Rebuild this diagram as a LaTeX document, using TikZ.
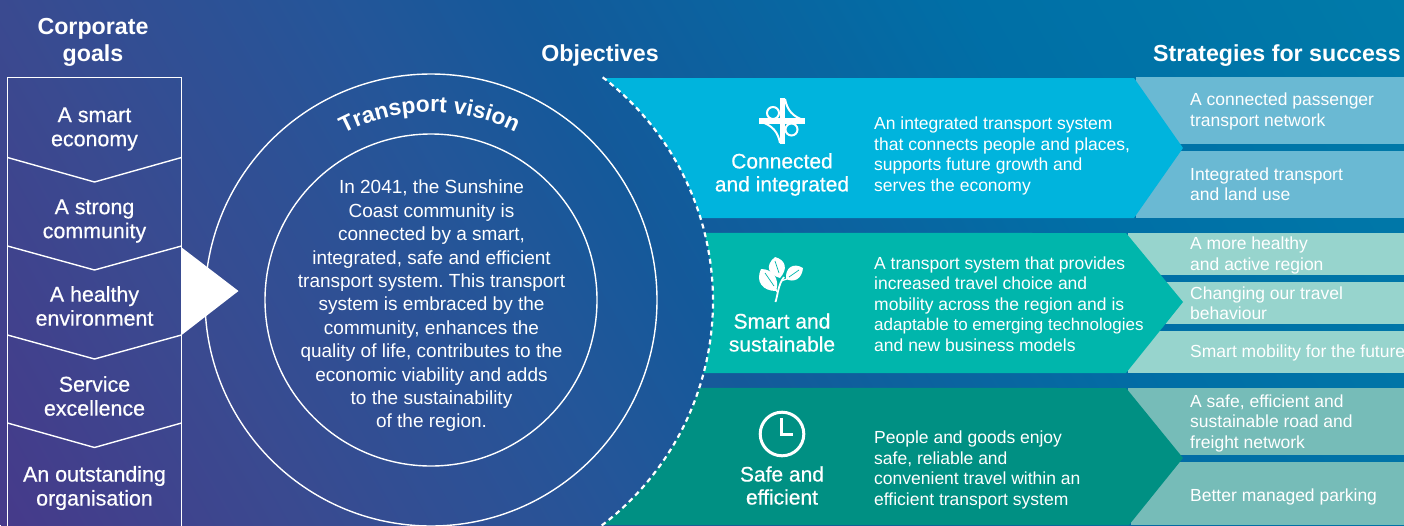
\documentclass[tikz,border=0pt]{standalone}
\usepackage{fontspec}
\setmainfont{Liberation Sans}
\newfontfamily\medfont[FakeBold=0.5]{Liberation Sans}
\frenchspacing
\usetikzlibrary{calc,decorations.text}
\definecolor{bandA}{HTML}{00B4DD}
\definecolor{bandB}{HTML}{00B6AC}
\definecolor{bandC}{HTML}{009083}
\definecolor{liteA}{HTML}{6AB9D3}
\definecolor{liteB}{HTML}{97D4CD}
\definecolor{liteC}{HTML}{76BCB8}
\definecolor{bgA}{HTML}{463A8A}
\definecolor{bgB}{HTML}{3A4A90}
\definecolor{bgC}{HTML}{235699}
\definecolor{bgD}{HTML}{14599A}
\definecolor{bgE}{HTML}{006FA6}
\definecolor{bgF}{HTML}{007BA9}
\pgfdeclarehorizontalshading{bggrad}{3000pt}{
  color(0pt)=(bgA); color(260pt)=(bgB); color(565pt)=(bgC); color(710pt)=(bgD); color(1100pt)=(bgE); color(1480pt)=(bgF)}
\tikzset{
  heading/.style={text=white, inner sep=0pt, align=center, font=\fontsize{23.2}{27}\selectfont\bfseries},
  goal/.style={text=white, inner sep=0pt, align=center, font=\fontsize{21.4}{24}\medfont},
  objname/.style={text=white, inner sep=0pt, align=center, font=\fontsize{21}{23}\medfont},
  objtext/.style={text=white, inner sep=0pt, align=left, anchor=west, font=\fontsize{17.5}{20.5}\selectfont},
  strat/.style={text=white, inner sep=0pt, align=left, anchor=west, font=\fontsize{17.5}{20.5}\selectfont},
  visiontext/.style={text=white, inner sep=0pt, align=center, font=\fontsize{19}{23.4}\selectfont},
  frame/.style={draw=white, line width=1.4pt},
  ring/.style={draw=white, line width=1.4pt},
  icon/.style={draw=white, line width=2pt},
  iconbold/.style={draw=white, line width=3pt},
}
\begin{document}
\begin{tikzpicture}[x=1pt, y=1pt]
\clip[use as bounding box] (0,0) rectangle (1404,-525);
\node (backdrop) [rotate=30, anchor=west, inner sep=0pt] at (0,-525) {\pgfuseshading{bggrad}};

\coordinate (ctr) at (431,-300);
\coordinate (arcctr) at (431,-301);

% --- strategy strips behind the bands ---
\fill[liteA] (1136,-77) rectangle (1404,-144);
\fill[liteA] (1136,-151) rectangle (1404,-218);
\fill[liteB] (1128,-233) rectangle (1404,-275);
\fill[liteB] (1128,-282) rectangle (1404,-324);
\fill[liteB] (1128,-331) rectangle (1404,-373);
\fill[liteC] (1128,-388) rectangle (1404,-455);
\fill[liteC] (1131,-462) rectangle (1404,-525);

% --- objective bands, left edge follows the dashed arc ---
\fill[bandA] ($(arcctr)+(52.26:282)$) arc[start angle=52.26, end angle=17.11, radius=282]
  -- (1134,-218) -- (1183,-148) -- (1134,-78) -- cycle;
\fill[bandB] ($(arcctr)+(13.96:282)$) arc[start angle=13.96, end angle=-14.8, radius=282]
  -- (1126,-373) -- (1183,-302) -- (1126,-233) -- cycle;
\fill[bandC] ($(arcctr)+(-17.96:282)$) arc[start angle=-17.96, end angle=-52.6, radius=282]
  -- (1129,-525) -- (1183,-458) -- (1126,-388) -- cycle;
\draw[white, line width=2.2pt, dash pattern=on 5pt off 4pt] ($(arcctr)+(52.5:282)$) arc[start angle=52.5, end angle=-54, radius=282];

% --- corporate goals column ---
\draw[frame] (7.5,-526) -- (7.5,-77.5) -- (181.5,-77.5) -- (181.5,-526);
\draw[frame] (7.5,-157.5) -- (94.5,-182) -- (181.5,-157.5);
\draw[frame] (7.5,-246) -- (94.5,-270) -- (181.5,-246);
\draw[frame] (7.5,-335) -- (94.5,-359) -- (181.5,-335);
\draw[frame] (7.5,-423) -- (94.5,-447.5) -- (181.5,-423);

\node (goalshead) [heading] at (93,-42.5) {Corporate\\goals};
\node (goalA) [goal] at (94.5,-129) {A smart\\economy};
\node (goalB) [goal] at (94.5,-221) {A strong\\community};
\node (goalC) [goal] at (94.5,-306) {A healthy\\environment};
\node (goalD) [goal] at (94.5,-396) {Service\\excellence};
\node (goalE) [goal] at (94.5,-488) {An outstanding\\organisation};

% --- transport vision rings ---
\draw[ring] (ctr) circle[radius=226];
\draw[ring] (ctr) circle[radius=166];
\fill[white] (181,-247) -- (238.5,-291) -- (181,-335.5) -- cycle;
\path[decorate, decoration={text along path, text align=center,
    text={|\fontsize{22.8}{27}\selectfont\bfseries\color{white}|Transport vision}}]
  ($(ctr)+(125.5:188)$) arc[start angle=125.5, end angle=55.5, radius=188];
\node (vision) [visiontext] at (431.5,-306) {In 2041, the Sunshine\\Coast community is\\connected by a smart,\\integrated, safe and efficient\\transport system. This transport\\system is embraced by the\\community, enhances the\\quality of life, contributes to the\\economic viability and adds\\to the sustainability\\of the region.};

% --- headings ---
\node (objhead) [heading] at (600,-56) {Objectives};
\node (strathead) [heading] at (1277,-56) {Strategies for success};

% --- connected and integrated ---
\fill[white] (759,-118) rectangle (805,-124);
\fill[white] (779.5,-98) rectangle (784.5,-144);
\draw[icon] (773,-113) circle[radius=6];
\draw[icon] (791.5,-129.5) circle[radius=6];
\draw[icon] (785,-99) .. controls (787,-110) and (793,-117) .. (804,-120);
\draw[icon] (761,-122) .. controls (772,-125) and (778,-132) .. (780,-143);
\node (objA) [objname] at (782,-174.5) {Connected\\and integrated};
\node (textA) [objtext] at (874,-156) {An integrated transport system\\that connects people and places,\\supports future growth and\\serves the economy};

% --- smart and sustainable ---
\draw[white, line width=1.8pt] (775.5,-302) .. controls (778,-294) and (778,-285) .. (784,-277);
\draw[white, line width=1.2pt] (777,-292) -- (776,-289);
\draw[white, line width=1.2pt] (781,-281) -- (787,-279);
\fill[white] (775,-257) .. controls (764,-266) and (769,-275) .. (780,-278) .. controls (788,-269) and (786,-260) .. (775,-257) -- cycle;
\fill[white] (761,-269) .. controls (755,-282) and (763,-291) .. (776,-291) .. controls (780,-279) and (773,-269) .. (761,-269) -- cycle;
\fill[white] (803,-268) .. controls (793,-262) and (785,-268) .. (786,-279) .. controls (794,-283) and (802,-279) .. (803,-268) -- cycle;
\draw[bandB, line width=0.7pt] (775,-261) -- (779,-273);
\draw[bandB, line width=0.7pt] (765,-273) -- (774,-286);
\draw[bandB, line width=0.7pt] (799,-270) -- (789,-277);
\node (objB) [objname] at (782,-332.5) {Smart and\\sustainable};
\node (textB) [objtext] at (874,-304) {A transport system that provides\\increased travel choice and\\mobility across the region and is\\{\fontsize{17}{20.5}\selectfont adaptable to emerging technologies}\\and new business models};

% --- safe and efficient ---
\draw[iconbold] (782,-434) circle[radius=21.8];
\draw[iconbold] (781,-418) -- (781,-434) -- (793,-434);
\node (objC) [objname] at (782,-485.5) {Safe and\\efficient};
\node (textC) [objtext] at (874,-470) {People and goods enjoy\\safe, reliable and\\convenient travel within an\\efficient transport system};

% --- strategies for success ---
\node (stratA) [strat] at (1190,-111.5) {A connected passenger\\transport network};
\node (stratB) [strat] at (1190,-184) {Integrated transport\\and land use};
\node (stratC) [strat] at (1190,-255.5) {A more healthy\\and active region};
\node (stratD) [strat] at (1190,-303) {Changing our travel\\behaviour};
\node (stratE) [strat] at (1190,-353) {Smart mobility for the future};
\node (stratF) [strat] at (1190,-423) {A safe, efficient and\\sustainable road and\\freight network};
\node (stratG) [strat] at (1190,-497) {Better managed parking};

\end{tikzpicture}
\end{document}
